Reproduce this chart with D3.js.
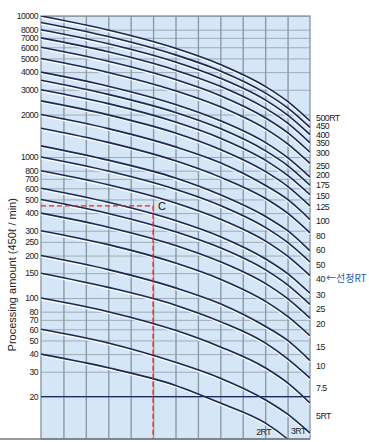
<!DOCTYPE html>
<html><head><meta charset="utf-8">
<script src="https://cdn.jsdelivr.net/npm/d3@7"></script>
<style>
html,body{margin:0;padding:0;background:#fff;}
svg{display:block;}
text{font-family:"Liberation Sans",Arial,sans-serif;}
</style></head>
<body><svg id="c" width="369" height="442"></svg>
<script>
// ---- data ----
const xSamples = [0, 3, 6, 8, 10, 11, 12];
const rtNames = ["500RT","450","400","350","300","250","200","175","150","125","100","80","60","50","40","30","25","20","15","10","7.5","5RT","3RT","2RT"];
const c500 = [10000, 7950, 5900, 4530, 3170, 2480, 1800];
const c450 = [9000, 7150, 5300, 4080, 2850, 2230, 1620];
const c400 = [8000, 6360, 4720, 3620, 2540, 1980, 1440];
const c350 = [7000, 5570, 4130, 3170, 2220, 1740, 1260];
const c300 = [6000, 4770, 3540, 2720, 1900, 1490, 1080];
const c250 = [5000, 3980, 2950, 2270, 1590, 1240, 900];
const c200 = [4000, 3180, 2360, 1810, 1270, 990, 720];
const c175 = [3500, 2780, 2070, 1590, 1110, 870, 630];
const c150 = [3000, 2390, 1770, 1360, 950, 740, 540];
const c125 = [2500, 1990, 1480, 1130, 790, 620, 450];
const c100 = [2000, 1590, 1180, 910, 630, 500, 360];
const c80  = [1600, 1270, 940, 720, 510, 400, 290];
const c60  = [1200, 950, 710, 540, 380, 300, 216];
const c50  = [1000, 795, 590, 453, 317, 248, 180];
const c40  = [800, 636, 472, 362, 254, 198, 144];
const c30  = [600, 477, 354, 272, 190, 149, 108];
const c25  = [500, 398, 295, 227, 159, 124, 90];
const c20  = [400, 318, 236, 181, 127, 99, 72];
const c15  = [300, 239, 177, 136, 95, 74, 54];
const c10  = [200, 159, 118, 91, 63, 50, 36];
const c7_5 = [150, 119, 89, 68, 48, 37, 27];
const c5   = [100, 80, 59, 45, 32, 25, 18];
const c3   = [60, 48, 35, 27, 19, 15, 11];
const c2   = [40, 32, 24, 18, 13, 10, 7.2];
const curves = [c500,c450,c400,c350,c300,c250,c200,c175,c150,c125,c100,c80,c60,c50,c40,c30,c25,c20,c15,c10,c7_5,c5,c3,c2];
// value at which each right-hand label sits
const rightLabelValues = [1900, 1650, 1430, 1250, 1070, 870, 750, 630, 530, 445, 350, 275, 220, 172, 137, 105, 83, 66, 45, 33, 23, 14.5];
const yTicks = [10000,8000,7000,6000,5000,4000,3000,2000,1000,800,700,600,500,400,300,250,200,150,100,80,70,60,50,40,30,20];
const xGrid = [1,2,3,4,5,6,7,8,9,10,11];
const baseLineValue = 20;
const pointC = {x: 5, y: 450};
const selectedRT = "40";
const yTitle = "Processing amount (450\u2113 / min)";

// ---- drawing ----
const svg = d3.select("#c");
const L = 41, R = 310, T = 16, B = 439;
const x = d3.scaleLinear().domain([0, 12]).range([L, R]);
const y = d3.scaleLog().domain([10, 10000]).range([B, T]);

svg.append("rect").attr("x", L).attr("y", T).attr("width", R - L).attr("height", B - T).attr("fill", "#d5e7f6");

// horizontal grid
svg.append("g").attr("transform", `translate(${L},0)`)
  .call(d3.axisLeft(y).tickValues(yTicks).tickSize(-(R - L)).tickFormat(""))
  .call(g => g.select(".domain").remove())
  .call(g => g.selectAll("line").attr("stroke", "#9eabb6").attr("stroke-width", 1));
// vertical grid
svg.append("g").attr("transform", `translate(0,${T})`)
  .call(d3.axisBottom(x).tickValues(xGrid).tickSize(B - T).tickFormat(""))
  .call(g => g.select(".domain").remove())
  .call(g => g.selectAll("line").attr("stroke", "#8d99a3").attr("stroke-width", 1.4));

// frame
svg.append("rect").attr("x", L).attr("y", T).attr("width", R - L).attr("height", B - T)
  .attr("fill", "none").attr("stroke", "#8f9aa3").attr("stroke-width", 1.4);

// clip
svg.append("clipPath").attr("id", "clip").append("rect").attr("x", L).attr("y", T).attr("width", R - L).attr("height", B - T);
const plot = svg.append("g").attr("clip-path", "url(#clip)");

const line = d3.line().x((d, i) => x(xSamples[i])).y(d => y(d)).curve(d3.curveMonotoneX);

// white highlight under each curve
plot.append("g").attr("transform", "translate(0,1.6)")
  .selectAll("path").data(curves).join("path")
  .attr("d", line).attr("fill", "none").attr("stroke", "#ffffff").attr("stroke-width", 1.2);
plot.append("g")
  .selectAll("path").data(curves).join("path")
  .attr("d", line).attr("fill", "none").attr("stroke", "#1e2655").attr("stroke-width", 1.6);

// baseline at 20
plot.append("line").attr("x1", L).attr("x2", R).attr("y1", y(baseLineValue)).attr("y2", y(baseLineValue))
  .attr("stroke", "#1e2a66").attr("stroke-width", 1.3);

// red dashed selection
plot.append("path")
  .attr("d", `M${L},${y(pointC.y)}H${x(pointC.x)}V${B}`)
  .attr("fill", "none").attr("stroke", "#e8261e").attr("stroke-width", 1.3).attr("stroke-dasharray", "5,3");
svg.append("text").attr("x", x(pointC.x) + 5).attr("y", y(pointC.y) + 4)
  .attr("font-size", 11).attr("fill", "#111").text("C");

// bottom edge line
svg.append("line").attr("x1", 0).attr("x2", R).attr("y1", B).attr("y2", B).attr("stroke", "#6f7980").attr("stroke-width", 1.5);

// left tick labels
svg.append("g").attr("transform", `translate(${L},0)`)
  .call(d3.axisLeft(y).tickValues(yTicks).tickSize(0).tickPadding(3).tickFormat(d3.format("d")))
  .call(g => g.select(".domain").remove())
  .call(g => g.selectAll("text").attr("font-size", 8.6).attr("fill", "#222")
      .attr("letter-spacing", "-0.55px")
      .style("font-family", '"Liberation Sans",Arial,sans-serif'));

// right labels
svg.append("g").selectAll("text").data(rightLabelValues).join("text")
  .attr("x", R + 6).attr("y", d => y(d)).attr("dy", "0.35em")
  .attr("font-size", 8.8).attr("letter-spacing", "-0.5px").attr("fill", "#222").text((d, i) => rtNames[i]);
// selected RT marker
const selIdx = rtNames.indexOf(selectedRT);
svg.append("text").attr("x", R + 16).attr("y", y(rightLabelValues[selIdx])).attr("dy", "0.35em")
  .attr("font-size", 10).attr("fill", "#1d5bb3")
  .style("font-family", '"Noto Sans CJK KR","Liberation Sans",sans-serif')
  .text("\u2190\uC120\uC815RT");

// 2RT / 3RT labels at bottom
svg.append("text").attr("x", x(9.6)).attr("y", B - 4).attr("font-size", 8.8).attr("letter-spacing", "-0.5px").attr("fill", "#222").text(rtNames[23]);
svg.append("text").attr("x", x(11.15)).attr("y", B - 5).attr("font-size", 8.8).attr("letter-spacing", "-0.5px").attr("fill", "#222").text(rtNames[22]);

// y title
svg.append("text").attr("transform", `translate(16,${(y(1000) + y(20)) / 2 - 2}) rotate(-90)`)
  .attr("text-anchor", "middle").attr("font-size", 11).attr("fill", "#222")
  .style("font-family", '"Liberation Sans",Arial,sans-serif')
  .text(yTitle);
</script></body></html>
